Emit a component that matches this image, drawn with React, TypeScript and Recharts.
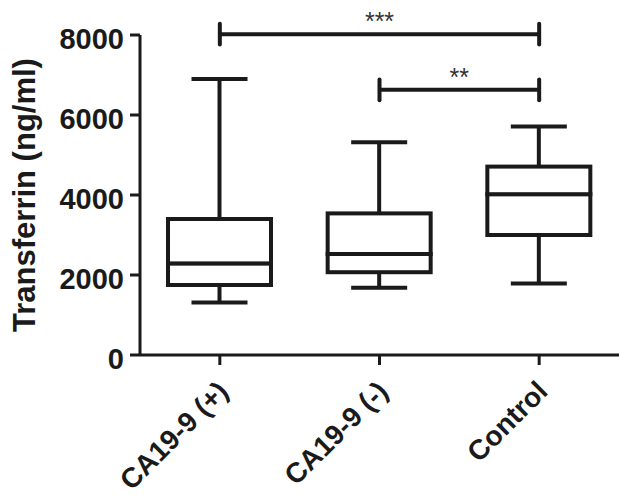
import {
  Bar,
  ComposedChart,
  ReferenceLine,
  XAxis,
  YAxis,
} from "recharts";

const categories = ["CA19-9 (+)", "CA19-9 (-)", "Control"];
const mins = [1310, 1680, 1790];
const q1s = [1750, 2070, 3000];
const medians = [2290, 2525, 4020];
const q3s = [3400, 3540, 4710];
const maxs = [6900, 5320, 5710];
const yTicks = [0, 2000, 4000, 6000, 8000];

// significance brackets: [from, to, height, label]
const brackets: [string, string, number, string][] = [
  ["CA19-9 (+)", "Control", 8020, "***"],
  ["CA19-9 (-)", "Control", 6630, "**"],
];
const capHalf = 260;

const ink = "#1a1a1a";
const font = "'Liberation Sans', Arial, sans-serif";

const data = categories.map((name, i) => ({
  name,
  base: mins[i],
  lowWhisker: q1s[i] - mins[i],
  lowBox: medians[i] - q1s[i],
  highBox: q3s[i] - medians[i],
  highWhisker: maxs[i] - q3s[i],
}));

const CAP = 56;
const LW = 4;

function LowWhisker(props: any) {
  const { x, y, width, height } = props;
  const cx = x + width / 2;
  return (
    <g stroke={ink} strokeWidth={LW}>
      <line x1={cx} y1={y} x2={cx} y2={y + height} />
      <line x1={cx - CAP / 2} y1={y + height} x2={cx + CAP / 2} y2={y + height} />
    </g>
  );
}

function HighWhisker(props: any) {
  const { x, y, width, height } = props;
  const cx = x + width / 2;
  return (
    <g stroke={ink} strokeWidth={LW}>
      <line x1={cx} y1={y} x2={cx} y2={y + height} />
      <line x1={cx - CAP / 2} y1={y} x2={cx + CAP / 2} y2={y} />
    </g>
  );
}

function BoxPart(props: any) {
  const { x, y, width, height } = props;
  return (
    <rect
      x={x}
      y={y}
      width={width}
      height={height}
      fill="#fff"
      stroke={ink}
      strokeWidth={LW}
    />
  );
}

function SlantTick(props: any) {
  const { x, y, payload } = props;
  return (
    <g transform={`translate(${x - 4},${y - 1})`}>
      <text
        transform="rotate(-45)"
        textAnchor="end"
        dy="0.71em"
        fill={ink}
        fontSize={28}
        fontWeight={700}
        fontFamily={font}
      >
        {payload.value}
      </text>
    </g>
  );
}

export default function App() {
  return (
    <div style={{ position: "absolute", left: 0, top: 0, background: "#fff" }}>
      <ComposedChart
        width={619}
        height={498}
        data={data}
        margin={{ top: 35, right: 0, bottom: 0, left: 0 }}
      >
        <XAxis
          dataKey="name"
          type="category"
          interval={0}
          height={143}
          axisLine={{ stroke: ink, strokeWidth: 3 }}
          tickLine={{ stroke: ink, strokeWidth: 3 }}
          tickSize={10}
          tickMargin={15}
          tick={<SlantTick />}
        />
        <YAxis
          domain={[0, 8000]}
          ticks={yTicks}
          width={140}
          axisLine={{ stroke: ink, strokeWidth: 3 }}
          tickLine={{ stroke: ink, strokeWidth: 3 }}
          tickSize={10}
          tickMargin={6}
          tick={{
            fill: ink,
            fontSize: 29,
            fontWeight: 700,
            fontFamily: font,
            dy: 4,
          }}
          label={{
            value: "Transferrin (ng/ml)",
            angle: -90,
            position: "insideLeft",
            offset: 24,
            style: {
              textAnchor: "middle",
              fill: ink,
              fontSize: 31,
              fontWeight: 700,
              fontFamily: font,
            },
          }}
        />
        <Bar dataKey="base" stackId="box" fill="none" barSize={103} isAnimationActive={false} />
        <Bar dataKey="lowWhisker" stackId="box" barSize={103} shape={LowWhisker} isAnimationActive={false} />
        <Bar dataKey="lowBox" stackId="box" barSize={103} shape={BoxPart} isAnimationActive={false} />
        <Bar dataKey="highBox" stackId="box" barSize={103} shape={BoxPart} isAnimationActive={false} />
        <Bar dataKey="highWhisker" stackId="box" barSize={103} shape={HighWhisker} isAnimationActive={false} />
        {brackets.map(([from, to, h, txt]) => (
          <ReferenceLine
            key={txt}
            segment={[
              { x: from, y: h },
              { x: to, y: h },
            ]}
            stroke={ink}
            strokeWidth={LW}
            ifOverflow="visible"
            label={{
              value: txt,
              position: "top",
              offset: 4,
              fill: "#333",
              fontSize: 25,
              fontFamily: font,
            }}
          />
        ))}
        {brackets.flatMap(([from, to, h, txt]) =>
          [from, to].map((c) => (
            <ReferenceLine
              key={txt + c}
              segment={[
                { x: c, y: h - capHalf },
                { x: c, y: h + capHalf },
              ]}
              stroke={ink}
              strokeWidth={LW}
              strokeLinecap="round"
              ifOverflow="visible"
            />
          ))
        )}
      </ComposedChart>
    </div>
  );
}
